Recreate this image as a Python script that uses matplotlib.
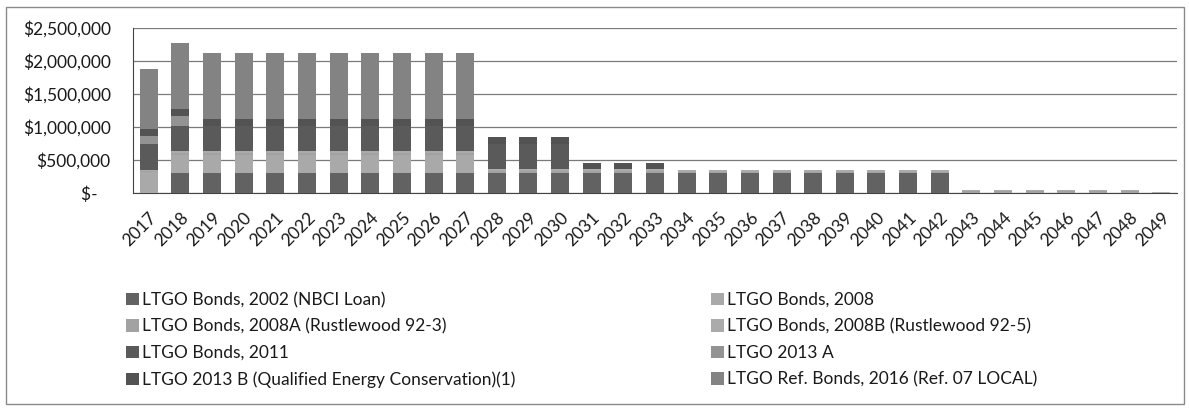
import matplotlib
matplotlib.use("Agg")
import matplotlib.pyplot as plt
import numpy as np
from matplotlib.patches import Rectangle

plt.rcParams['font.family'] = ['Lato', 'DejaVu Sans']

years = [str(y) for y in range(2017, 2050)]

series_names = [
    "LTGO Bonds, 2002 (NBCI Loan)",
    "LTGO Bonds, 2008",
    "LTGO Bonds, 2008A (Rustlewood 92-3)",
    "LTGO Bonds, 2008B (Rustlewood 92-5)",
    "LTGO Bonds, 2011",
    "LTGO 2013 A",
    "LTGO 2013 B (Qualified Energy Conservation)(1)",
    "LTGO Ref. Bonds, 2016 (Ref. 07 LOCAL)",
]

# values in dollars, 2017..2049 (33 years)
nbci_2002 = [0] + [303000] * 25 + [0] * 7
bonds_2008 = [320000] + [273000] * 10 + [0] * 22
bonds_2008a = [15000] + [30000] * 16 + [22000] * 9 + [25000] * 6 + [0]
bonds_2008b = [15000] + [30000] * 16 + [23000] * 9 + [25000] * 6 + [20000]
bonds_2011 = [394000] + [379000] * 13 + [0] * 19
ltgo_2013a = [121000, 152000] + [0] * 31
ltgo_2013b = [106000] * 14 + [90000] * 3 + [0] * 16
ref_2016 = [909000] + [1000000] * 10 + [0] * 22

data = [nbci_2002, bonds_2008, bonds_2008a, bonds_2008b,
        bonds_2011, ltgo_2013a, ltgo_2013b, ref_2016]
colors = ["#626262", "#a9a9a9", "#a2a2a2", "#ababab",
          "#5a5a5a", "#939393", "#535353", "#838383"]

yticks = [0, 500000, 1000000, 1500000, 2000000, 2500000]
ytick_labels = ["$-   ", "$500,000", "$1,000,000", "$1,500,000", "$2,000,000", "$2,500,000"]

W, H = 1189, 413
fig = plt.figure(figsize=(W / 100, H / 100), dpi=100)
ax = fig.add_axes([133 / W, 1 - 193 / H, (1177 - 133) / W, (193 - 28) / H])

x = np.arange(len(years))
bottom = np.zeros(len(years))
handles = []
for vals, col, name in zip(data, colors, series_names):
    v = np.array(vals, dtype=float)
    b = ax.bar(x, v, 0.57, bottom=bottom, color=col, label=name, linewidth=0, zorder=3)
    handles.append(b)
    bottom += v

ax.set_xlim(-0.5, len(years) - 0.5)
ax.set_ylim(0, 2500000)
ax.set_yticks(yticks)
ax.set_yticklabels(ytick_labels)
ax.set_xticks(x)
ax.set_xticklabels(years, rotation=45, ha='right', rotation_mode='anchor')
ax.tick_params(axis='both', length=0, labelsize=12.5, colors='#1a1a1a')
ax.tick_params(axis='y', pad=16)
ax.tick_params(axis='x', pad=12)
ax.yaxis.grid(True, color='#7a7a7a', linewidth=0.9, zorder=0)
for s in ['top', 'right']:
    ax.spines[s].set_visible(False)
ax.spines['left'].set_color('#444444')
ax.spines['bottom'].set_color('#444444')

left_idx = [0, 2, 4, 6]
right_idx = [1, 3, 5, 7]
for idxs, xpos in [(left_idx, 126 / W), (right_idx, 711 / W)]:
    fig.legend([handles[i] for i in idxs], [series_names[i] for i in idxs],
               loc='upper left', bbox_to_anchor=(xpos, 1 - 292 / H),
               frameon=False, fontsize=12.5, handlelength=0.72, handleheight=0.72,
               handletextpad=0.2, labelspacing=0.6, borderaxespad=0, borderpad=0,
               labelcolor='#1a1a1a')

fig.patches.append(Rectangle((6 / W, 1 - 404 / H), (1184 - 6) / W, (404 - 7) / H,
                             transform=fig.transFigure, fill=False,
                             edgecolor='#8a8a8a', linewidth=1.0))

fig.savefig("out.png", dpi=100)
